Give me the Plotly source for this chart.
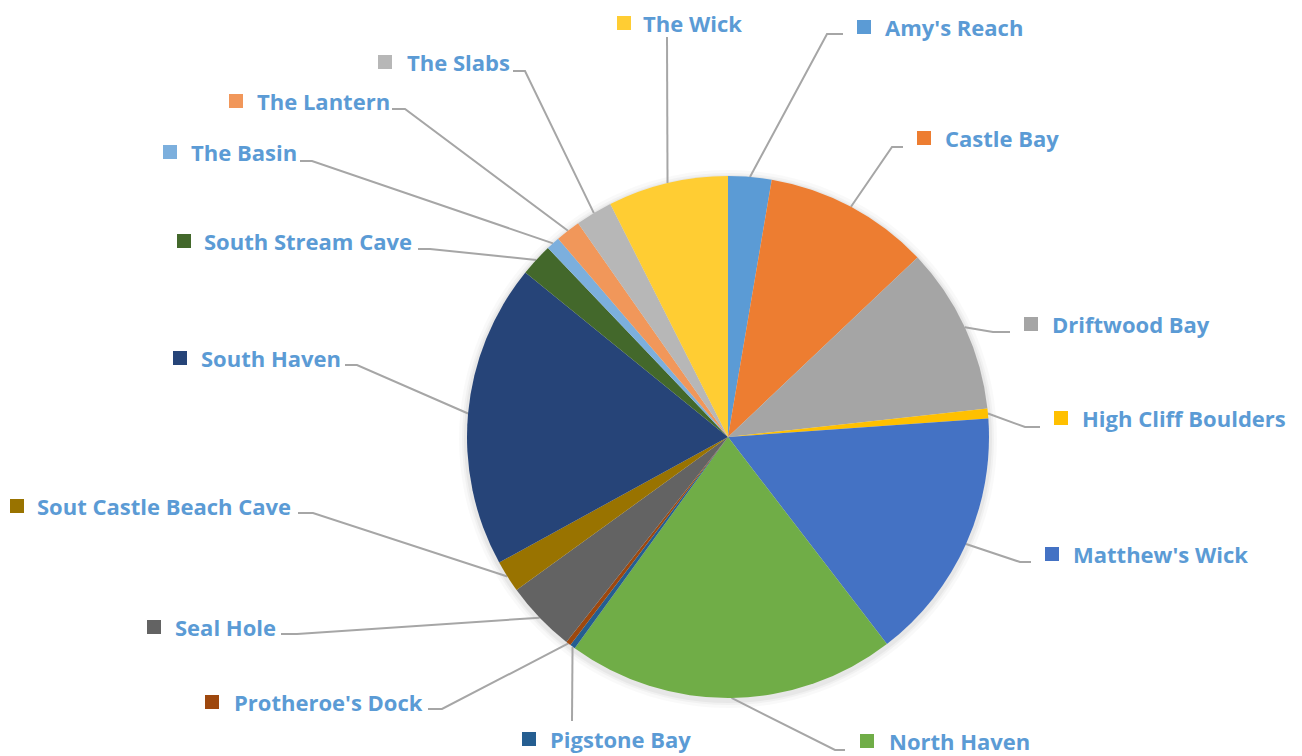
import plotly.graph_objects as go
import numpy as np

W, H = 1302, 756

# Slice data (share of total, %), listed clockwise from 12 o'clock
names = [
    "Amy's Reach", "Castle Bay", "Driftwood Bay", "High Cliff Boulders",
    "Matthew's Wick", "North Haven", "Pigstone Bay", "Protheroe's Dock",
    "Seal Hole", "Sout Castle Beach Cave", "South Haven", "South Stream Cave",
    "The Basin", "The Lantern", "The Slabs", "The Wick",
]
values = [2.68, 10.25, 10.32, 0.61, 15.7, 20.4, 0.33, 0.31,
          4.4, 1.98, 18.83, 2.03, 0.84, 1.54, 2.29, 7.44]
colors = [
    "#5B9BD5", "#ED7D31", "#A5A5A5", "#FFC000", "#4472C4", "#70AD47",
    "#255E91", "#9E480E", "#636363", "#997300", "#264478", "#43682B",
    "#7CAFDD", "#F1975A", "#B7B7B7", "#FFCD33",
]

# Pie placement in pixels
cx, cy, r = 728, 437, 261

# Label placement (pixels): square marker centre, text left edge, text centre y
marker_x = [864, 924, 1031, 1061, 1052, 867, 529, 212, 154, 17, 180, 184, 170, 236, 385, 624]
text_x = [883, 943, 1050, 1080, 1071, 887, 548, 232, 173, 35, 199, 202, 189, 255, 405, 641]
text_y = [27, 138, 324, 418, 554, 741, 739, 702, 627, 506, 358, 241, 152, 101, 62, 23]
# Leader line elbow and end points (pixels)
elbow_x = [827, 892, 993, 1025, 1020, 835, 572, 442, 297, 313, 357, 430, 312, 405, 525, 667]
elbow_y = [34, 147, 332, 427, 562, 750, 721, 709, 634, 513, 365, 249, 161, 109, 71, 37]
end_x = [843, 903, 1010, 1040, 1031, 845, 572, 428, 281, 298, 345, 418, 300, 392, 513, 667]
end_y = [34, 147, 332, 427, 562, 750, 721, 709, 634, 513, 365, 249, 161, 109, 71, 37]

vals = np.array(values, dtype=float)
cum = np.cumsum(vals) / vals.sum() * 360.0
mid = np.radians(cum - vals / vals.sum() * 180.0)
edge_x = cx + r * np.sin(mid)
edge_y = cy - r * np.cos(mid)

fig = go.Figure()

# Leader lines
lx, ly = [], []
for i in range(len(names)):
    lx += [edge_x[i], elbow_x[i], end_x[i], None]
    ly += [edge_y[i], elbow_y[i], end_y[i], None]
fig.add_trace(go.Scatter(
    x=lx, y=ly, mode="lines",
    line=dict(color="#A6A6A6", width=2),
    hoverinfo="skip", showlegend=False,
))

# Legend-key squares beside each label
fig.add_trace(go.Scatter(
    x=marker_x, y=text_y, mode="markers",
    marker=dict(symbol="square", size=14, color=colors, line=dict(width=0)),
    hoverinfo="skip", showlegend=False,
))

fig.add_trace(go.Pie(
    labels=names, values=values, sort=False, direction="clockwise", rotation=0,
    marker=dict(colors=colors, line=dict(width=0)),
    textinfo="none", showlegend=False,
    domain=dict(x=[(cx - r) / W, (cx + r) / W],
                y=[(H - cy - r) / H, (H - cy + r) / H]),
))

annotations = [
    dict(x=text_x[i], y=text_y[i], xref="x", yref="y", text=f"<b>{names[i]}</b>",
         showarrow=False, xanchor="left", yanchor="middle",
         font=dict(family="Open Sans", size=22, color="#5B9BD5"))
    for i in range(len(names))
]

# Soft shadow around the pie
shapes = []
for k, a in [(8, 0.025), (5, 0.03), (3, 0.04)]:
    shapes.append(dict(type="circle", xref="x", yref="y", layer="below",
                       x0=cx - r - k, x1=cx + r + k, y0=cy - r - k + 2, y1=cy + r + k + 2,
                       fillcolor=f"rgba(0,0,0,{a})", line=dict(width=0)))

fig.update_layout(
    width=W, height=H,
    margin=dict(l=0, r=0, t=0, b=0),
    paper_bgcolor="white", plot_bgcolor="white",
    xaxis=dict(range=[0, W], visible=False, fixedrange=True),
    yaxis=dict(range=[H, 0], visible=False, fixedrange=True),
    annotations=annotations, shapes=shapes,
)

fig.write_html("out.html")
